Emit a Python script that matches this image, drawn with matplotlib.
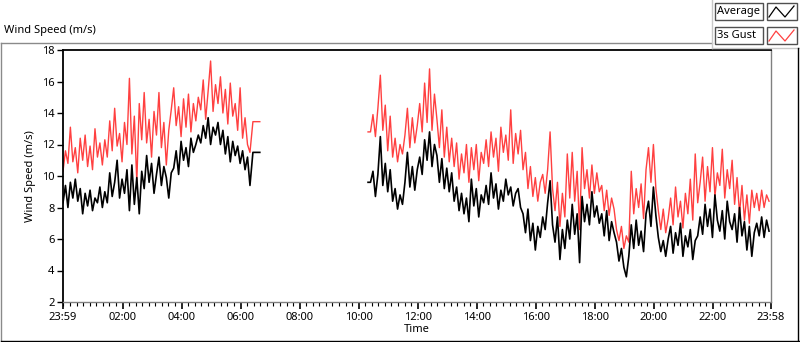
import numpy as np
import matplotlib
matplotlib.use("Agg")
import matplotlib.pyplot as plt
from matplotlib.lines import Line2D
from matplotlib.patches import Rectangle

# minutes after 23:59
t_first = np.concatenate([np.arange(0, 385, 5), [386, 400]])
avg_first = [
    8.3, 9.4, 8.0, 9.6, 8.6, 9.8, 8.4, 9.2,
    7.6, 8.9, 8.1, 9.1, 7.8, 8.6, 8.3, 9.3, 8.0,
    9.0, 8.3, 10.2, 8.7, 9.6, 11.0, 8.6, 9.8, 8.9, 10.4,
    7.8, 10.7, 8.2, 9.9, 7.6, 10.3,
    9.2, 11.3, 9.6, 10.8, 8.9, 10.1, 11.2, 9.4, 10.6, 9.9, 8.6, 10.2,
    10.5, 11.6, 10.1, 12.2, 11.0, 11.8, 10.6, 12.4, 11.5, 12.0, 12.6,
    12.1, 13.2, 12.4, 13.7, 12.0, 13.1, 12.6, 13.4,
    12.0, 12.9, 11.4, 12.5, 10.9, 12.2, 11.3, 11.9,
    10.8, 11.6, 10.4, 11.2, 9.4,
    11.5, 11.5,
]
gust_first = [
    10.3, 11.6, 10.8, 13.1, 10.9, 11.8, 10.2, 12.4,
    11.0, 12.6, 10.6, 11.9, 10.4, 13.0, 11.2, 12.1, 10.7,
    12.3, 11.2, 13.5, 11.6, 14.3, 11.9, 12.7, 10.9, 13.4, 12.0,
    16.2, 11.4, 13.8, 9.6, 14.6, 12.3,
    15.3, 12.1, 13.6, 11.2, 14.1, 12.6, 15.3, 11.8, 13.4, 10.7, 12.9, 14.2,
    15.6, 13.2, 14.4, 12.5, 14.9, 13.1, 15.2, 12.8, 14.6, 13.5, 15.0,
    14.2, 16.1, 13.6, 15.4, 17.3, 14.1, 15.8, 14.6,
    16.3, 14.0, 15.5, 13.3, 15.9, 13.8, 14.6, 12.9,
    15.6, 12.4, 13.7, 12.0, 11.5,
    13.45, 13.45,
]

t_second = np.arange(620, 1440, 5)
avg_second = [
    9.6, 9.6,
    10.3, 8.7, 10.1,
    12.5, 9.4, 10.8, 9.0, 10.4,
    8.4, 9.2, 7.9, 8.8, 8.2,
    9.6, 11.5, 9.3, 10.6, 9.1, 10.4,
    11.2, 10.1, 12.3, 11.0, 12.8, 10.6, 12.0, 11.3,
    9.6, 11.1, 9.2, 10.5, 9.0, 10.2,
    8.4, 9.3, 7.8, 8.9, 7.6, 8.6, 7.1,
    9.8, 8.1, 9.2, 7.4, 8.8, 8.3,
    9.4, 8.2, 10.2, 8.6, 9.5, 7.9, 9.1, 8.4, 9.8, 8.8,
    9.3, 8.1, 8.9, 9.2, 8.0,
    7.6, 6.4, 7.9, 5.9, 7.0, 5.3, 6.8, 6.1,
    7.4, 6.6, 8.3, 9.7,
    6.9, 5.8, 7.4, 4.7, 6.6, 5.4, 7.2, 6.0,
    8.2, 6.3, 7.6,
    4.5,
    8.7, 7.1, 8.2, 6.9, 9.0, 7.4, 8.1, 7.0,
    7.6, 6.2, 7.8, 5.9, 7.1, 6.4,
    5.8, 4.6, 5.4, 4.2, 3.6, 4.9,
    6.9, 5.4, 7.2, 5.6, 6.5, 5.2,
    7.6, 8.4, 6.8, 9.3, 7.5,
    6.1, 5.2, 5.9, 4.9, 6.0,
    6.8, 5.1, 6.4, 5.6, 7.0, 4.9, 6.2, 5.5,
    6.6, 4.7, 5.9, 6.2,
    7.4, 6.3, 8.2, 6.8, 7.9, 6.1, 8.8, 7.2, 6.5, 7.8, 6.0, 8.4, 7.1, 6.6,
    7.6, 5.8, 8.0, 6.2, 7.1, 5.3, 6.8, 4.9, 6.4,
    7.0, 6.2, 7.4, 6.1, 7.2, 6.5,
]
gust_second = [
    12.8, 12.8,
    13.9, 12.5, 14.3,
    16.4, 12.9, 14.5, 11.6, 13.8,
    11.2, 12.4, 10.9, 12.0, 11.4,
    12.6, 14.3, 11.8, 13.7, 12.1, 13.2,
    14.6, 12.8, 15.9, 13.4, 16.8, 12.9, 15.2, 13.6,
    11.8, 14.2, 11.2, 13.1, 10.9, 12.4,
    10.6, 12.1, 9.8, 11.4, 10.2, 12.0, 9.6,
    11.8, 10.4, 12.0, 9.7, 11.5, 10.8,
    12.3, 10.6, 12.8, 11.2, 12.4, 10.3, 13.1, 11.5, 12.6, 11.0,
    14.2, 10.8, 12.7, 11.4, 12.9,
    10.4, 11.5, 9.2, 10.6, 8.7, 9.9, 8.4, 9.6,
    10.1, 8.9, 10.4, 12.8,
    9.2, 7.8, 9.6, 6.8, 8.9, 7.4, 11.4, 8.6,
    11.5, 8.4, 10.3,
    6.6,
    11.8, 9.2, 10.4, 8.6, 10.7, 8.9, 10.2, 9.0,
    9.4, 7.8, 9.1, 7.5, 8.6, 7.9,
    6.6, 5.9, 6.8, 5.4, 6.2, 5.8,
    10.3, 7.6, 9.2, 8.0, 9.5, 7.3,
    10.4, 11.8, 9.6, 12.0, 9.2,
    7.8, 6.6, 7.9, 6.4, 7.3,
    8.6, 6.9, 9.3, 7.4, 8.4, 6.7, 8.9, 7.6,
    9.8, 7.2, 11.4, 8.3,
    9.6, 11.2, 8.4, 10.6, 9.0, 11.8, 8.7, 10.2, 9.4, 11.7, 8.6, 10.4, 9.2, 11.0,
    8.2, 9.9, 7.6, 9.4, 7.2, 8.8, 7.0, 9.1, 8.0,
    8.9, 7.8, 9.1, 8.0, 8.8, 8.4,
]

tick_minutes = [0, 121, 241, 361, 481, 601, 721, 841, 961, 1081, 1201, 1321, 1439]
tick_labels = ["23:59", "02:00", "04:00", "06:00", "08:00", "10:00", "12:00",
               "14:00", "16:00", "18:00", "20:00", "22:00", "23:58"]

W, H = 800, 342
RED = "#ff4040"
FONT = "Noto Sans"
plt.rcParams["font.family"] = FONT


def fx(x):
    return x / W


def fy(y):
    return 1 - y / H


fig = plt.figure(figsize=(8, 3.42), dpi=100)
ax = fig.add_axes([fx(63), fy(302), 708 / W, 252 / H])

ax.plot(t_first, gust_first, color=RED, lw=1.0)
ax.plot(t_second, gust_second, color=RED, lw=1.0)
ax.plot(t_first, avg_first, color="black", lw=1.2)
ax.plot(t_second, avg_second, color="black", lw=1.2)

ax.set_xlim(0, 1439)
ax.set_ylim(2, 18)
ax.set_yticks(range(2, 19, 2))
ax.set_xticks(tick_minutes)
ax.set_xticklabels(tick_labels)
minor = [121 + k * 120 / 9 for k in range(-9, 100) if 0 <= 121 + k * 120 / 9 <= 1439]
ax.set_xticks(minor, minor=True)
ax.tick_params(axis="both", labelsize=8, direction="out", pad=2, colors="black")
ax.tick_params(axis="x", which="major", length=5, width=1.2)
ax.tick_params(axis="x", which="minor", length=3, width=0.8)
ax.tick_params(axis="y", length=4, width=1)

for side in ("top", "left"):
    ax.spines[side].set_color("black")
    ax.spines[side].set_linewidth(1.3)
for side in ("bottom", "right"):
    ax.spines[side].set_color("#808080")
    ax.spines[side].set_linewidth(1.0)

ax.set_xlabel("Time", fontsize=8, labelpad=1)
ax.set_ylabel("Wind Speed (m/s)", fontsize=8, labelpad=4)

# outer frame
gray = "#8a8a8a"
fig.add_artist(Line2D([fx(0.5), fx(712)], [fy(42.5), fy(42.5)], color=gray, lw=1))
fig.add_artist(Line2D([fx(0.5), fx(0.5)], [fy(42.5), fy(341)], color=gray, lw=1))
fig.add_artist(Line2D([fx(0.5), fx(799)], [fy(341), fy(341)], color="black", lw=1))
fig.add_artist(Line2D([fx(712), fx(712)], [fy(0), fy(48)], color="#c8c8c8", lw=1))
fig.add_artist(Line2D([fx(712), fx(799)], [fy(48), fy(48)], color="#c8c8c8", lw=1))
fig.add_artist(Line2D([fx(798), fx(798)], [fy(48), fy(341)], color="black", lw=1))
fig.text(fx(4), fy(31), "Wind Speed (m/s)", fontsize=8, va="center", ha="left")

# legend
rows = [("Average", "black", 3), ("3s Gust", RED, 27)]
for name, col, top in rows:
    fig.add_artist(Rectangle((fx(715), fy(top + 17)), 48 / W, 17 / H,
                             fill=False, edgecolor="#505050", lw=1))
    fig.add_artist(Rectangle((fx(767), fy(top + 17)), 30 / W, 17 / H,
                             fill=False, edgecolor="#505050", lw=1))
    fig.text(fx(717), fy(top + 8.5), name, fontsize=8, va="center", ha="left")
    zx = [769, 776, 785, 794]
    zy = [top + 14, top + 4, top + 14, top + 3]
    fig.add_artist(Line2D([fx(v) for v in zx], [fy(v) for v in zy], color=col, lw=0.9))

fig.savefig("out.png", dpi=100)
